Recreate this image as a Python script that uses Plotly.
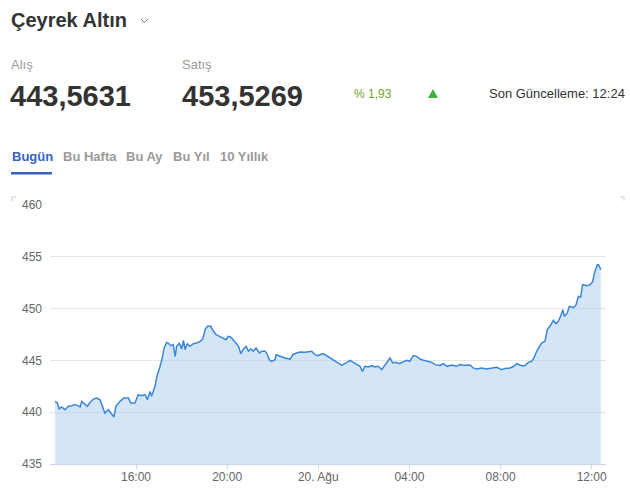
import plotly.graph_objects as go

# ---- data ----
day1 = "2024-08-19"
day2 = "2024-08-20"

times_d1 = ["12:27", "12:33", "12:38", "12:44", "12:53", "13:02", "13:11", "13:19", "13:26", "13:33",
            "13:37", "13:46", "13:52", "13:59", "14:08", "14:16", "14:25", "14:30", "14:38", "14:47",
            "14:56", "15:02", "15:07", "15:18", "15:28", "15:40", "15:46", "15:57", "16:06", "16:15",
            "16:24", "16:30", "16:37", "16:41", "16:50", "16:56", "17:01", "17:08", "17:14", "17:21",
            "17:25", "17:31", "17:38", "17:43", "17:47", "17:54", "18:00", "18:05", "18:09", "18:15",
            "18:22", "18:31", "18:40", "18:49", "18:56", "19:02", "19:08", "19:17", "19:24", "19:31",
            "19:40", "19:48", "19:57", "20:03", "20:09", "20:16", "20:23", "20:30", "20:36", "20:43",
            "20:50", "20:56", "21:02", "21:09", "21:16", "21:25", "21:31", "21:40", "21:44", "21:51",
            "21:57", "22:06", "22:09", "22:19", "22:32", "22:46", "22:53", "23:03", "23:12", "23:25",
            "23:43", "23:51"]
values_d1 = [441.05, 440.89, 440.31, 440.50, 440.24, 440.57, 440.63, 440.73, 440.63, 440.50,
             441.05, 440.73, 440.57, 440.95, 441.27, 441.37, 441.21, 440.73, 439.92, 440.24,
             439.86, 439.54, 440.57, 441.05, 441.37, 441.37, 440.89, 440.89, 441.69, 441.60,
             441.69, 441.21, 442.01, 441.53, 442.50, 443.62, 444.11, 445.07, 446.20, 446.74,
             446.68, 446.42, 446.52, 445.39, 446.36, 446.68, 446.10, 446.94, 446.04, 446.61,
             446.36, 446.61, 446.68, 446.84, 447.07, 447.97, 448.29, 448.29, 447.81, 447.48,
             447.32, 447.16, 447.00, 447.32, 447.26, 447.00, 446.68, 446.36, 445.65, 446.10,
             446.36, 445.88, 446.10, 445.88, 446.20, 445.71, 445.88, 445.88, 445.71, 445.07,
             444.91, 445.07, 445.55, 445.39, 445.23, 445.13, 445.55, 445.71, 445.81, 445.78,
             445.88, 445.55]

times_d2 = ["00:00", "00:04", "00:13", "01:02", "01:10", "01:24", "01:32", "01:41", "01:50", "01:56",
            "02:03", "02:12", "02:21", "02:29", "02:38", "02:47", "02:56", "03:04", "03:09", "03:16",
            "03:25", "03:33", "03:42", "03:53", "04:01", "04:10", "04:19", "04:28", "04:37", "04:45",
            "04:59", "05:07", "05:21", "05:29", "05:40", "05:51", "06:04", "06:13", "06:26", "06:40",
            "06:48", "06:57", "07:10", "07:23", "07:37", "07:50", "08:03", "08:12", "08:25", "08:35",
            "08:42", "08:56", "09:04", "09:13", "09:22", "09:28", "09:35", "09:42", "09:48", "09:57",
            "10:03", "10:10", "10:19", "10:26", "10:32", "10:38", "10:44", "10:48", "10:56", "11:01",
            "11:12", "11:19", "11:25", "11:31", "11:36", "11:47", "11:56", "12:03", "12:06", "12:11",
            "12:15", "12:18", "12:22", "12:24"]
values_d2 = [445.46, 445.55, 445.65, 444.52, 444.68, 445.01, 444.81, 444.59, 444.43, 443.94,
             444.43, 444.36, 444.49, 444.36, 444.43, 444.11, 444.59, 444.91, 445.23, 444.75,
             444.81, 444.68, 444.81, 445.01, 444.91, 445.46, 445.39, 445.13, 445.01, 444.91,
             444.81, 444.59, 444.52, 444.68, 444.43, 444.56, 444.43, 444.59, 444.52, 444.56,
             444.27, 444.17, 444.27, 444.17, 444.27, 444.33, 444.11, 444.23, 444.27, 444.43,
             444.68, 444.49, 444.49, 444.81, 444.91, 445.23, 445.88, 446.36, 446.68, 446.84,
             447.97, 448.29, 448.86, 448.55, 448.77, 449.25, 449.90, 449.25, 449.58, 450.22,
             450.10, 450.38, 451.18, 451.12, 452.31, 452.21, 452.31, 452.63, 453.28, 453.82,
             454.24, 454.24, 453.92, 453.76]

y_ticks = [435, 440, 445, 450, 455, 460]
x_tick_times = ["2024-08-19 16:00", "2024-08-19 20:00", "2024-08-20 00:00",
                "2024-08-20 04:00", "2024-08-20 08:00", "2024-08-20 12:00"]
x_tick_labels = ["16:00", "20:00", "20. Ağu", "04:00", "08:00", "12:00"]

title = "Çeyrek Altın"
buy_label, sell_label = "Alış", "Satış"
buy_value, sell_value = "443,5631", "453,5269"
change_text = "% 1,93"
update_text = "Son Güncelleme: 12:24"
tabs = ["Bugün", "Bu Hafta", "Bu Ay", "Bu Yıl", "10 Yıllık"]

times = [f"{day1} {t}" for t in times_d1] + [f"{day2} {t}" for t in times_d2]
values = values_d1 + values_d2

# ---- layout geometry (pixels) ----
W, H = 630, 494
L, R, T, B = 50, 24, 205, 30
PW, PH = W - L - R, H - T - B


def px(x):
    return (x - L) / PW


def py(y):
    return (H - B - y) / PH


FONT = "Liberation Sans, Arial, sans-serif"

fig = go.Figure()
fig.add_trace(go.Scatter(
    x=times, y=values, mode="lines",
    line=dict(color="#3b86d9", width=1.5),
    fill="tozeroy", fillcolor="rgba(170,205,235,0.5)",
    hoverinfo="skip", showlegend=False,
))

annotations = []


def text(s, x, y, size, color, bold=False, xanchor="left"):
    annotations.append(dict(
        text=f"<b>{s}</b>" if bold else s, x=px(x), y=py(y), xref="paper", yref="paper",
        xanchor=xanchor, yanchor="middle", showarrow=False,
        font=dict(family=FONT, size=size, color=color),
    ))


text(title, 9, 20, 20, "#333333", bold=True)
text(buy_label, 9, 64, 13, "#9a9a9a")
text(sell_label, 180, 64, 13, "#9a9a9a")
text(buy_value, 8, 96, 29, "#333333", bold=True)
text(sell_value, 180, 96, 29, "#333333", bold=True)
text(change_text, 352, 94, 12, "#6fa52e")
text(update_text, 627, 94, 13, "#333333", xanchor="right")

tab_x = [10, 61, 124, 171, 218]
for i, (tb, tx) in enumerate(zip(tabs, tab_x)):
    text(tb, tx, 156, 13, "#3463c4" if i == 0 else "#9a9a9a", bold=True)

shapes = []
# chevron next to title
shapes.append(dict(type="path", xref="paper", yref="paper",
                   path=f"M {px(141)} {py(19)} L {px(144.5)} {py(22.5)} L {px(148)} {py(19)}",
                   line=dict(color="#777777", width=1)))
# up triangle
shapes.append(dict(type="path", xref="paper", yref="paper",
                   path=f"M {px(428)} {py(98)} L {px(433)} {py(89)} L {px(438)} {py(98)} Z",
                   fillcolor="#3db23f", line=dict(width=0)))
# active tab underline
shapes.append(dict(type="rect", xref="paper", yref="paper",
                   x0=px(11), x1=px(52), y0=py(174.5), y1=py(172),
                   fillcolor="#3463c4", line=dict(width=0)))
# corner marks
for (x0, y0, x1, y1, x2, y2) in [(12, 201, 12, 197, 16, 197), (620, 197, 624, 197, 624, 201)]:
    shapes.append(dict(type="path", xref="paper", yref="paper",
                       path=f"M {px(x0)} {py(y0)} L {px(x1)} {py(y1)} L {px(x2)} {py(y2)}",
                       line=dict(color="#cccccc", width=1)))

fig.update_layout(
    width=W, height=H, autosize=False,
    margin=dict(l=L, r=R, t=T, b=B, pad=0, autoexpand=False),
    paper_bgcolor="white", plot_bgcolor="white",
    font=dict(family=FONT, size=12, color="#666666"),
    annotations=annotations, shapes=shapes,
    xaxis=dict(
        type="date", automargin=False,
        range=["2024-08-19 12:13:30", "2024-08-20 12:37:40"],
        tickvals=x_tick_times, ticktext=x_tick_labels,
        showgrid=False, showline=True, linecolor="#ccd6eb", linewidth=1,
        ticks="outside", ticklen=4, tickcolor="#ccd6eb",
        ticklabelstandoff=-2,
        tickfont=dict(family=FONT, size=12, color="#666666"),
        zeroline=False, fixedrange=True,
    ),
    yaxis=dict(
        automargin=False,
        range=[435, 460], tickvals=y_ticks,
        showgrid=True, gridcolor="#e6e6e6", gridwidth=1,
        showline=False, zeroline=False, ticks="",
        ticklabelstandoff=7,
        tickfont=dict(family=FONT, size=12, color="#666666"),
        fixedrange=True,
    ),
)

fig.write_html(
    "out.html",
    config={"displayModeBar": False},
    post_script="document.body.style.margin='0';document.body.style.padding='0';",
)
